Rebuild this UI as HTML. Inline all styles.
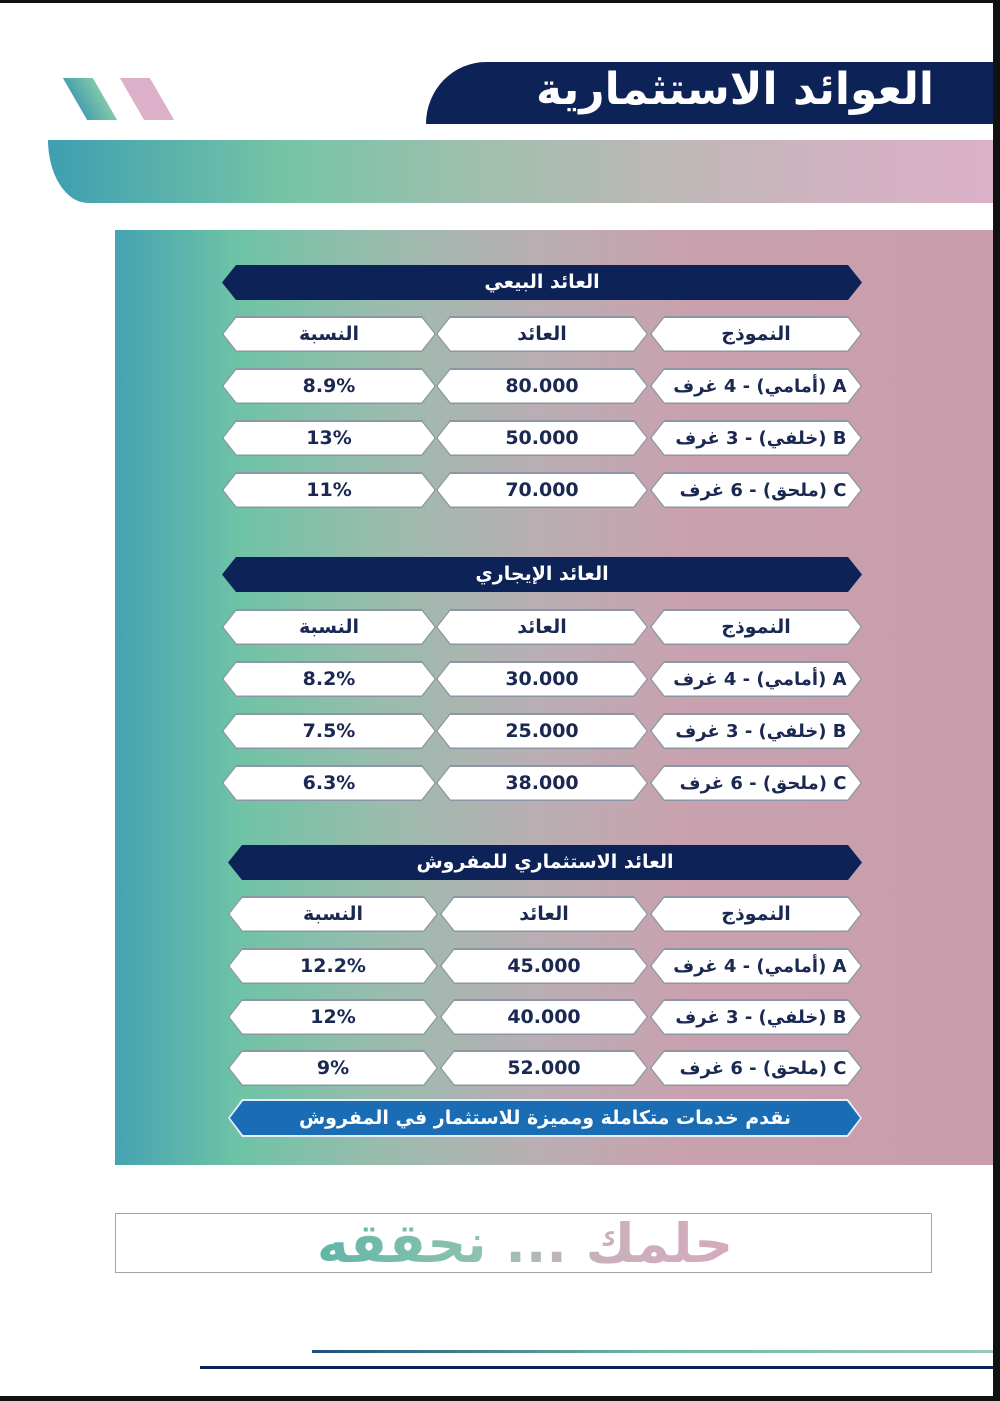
<!DOCTYPE html>
<html><head><meta charset="utf-8">
<style>
html,body{margin:0;padding:0}
body{width:1000px;height:1401px;background:#111;position:relative;overflow:hidden;font-family:"DejaVu Sans","Liberation Sans",sans-serif}
.page{position:absolute;left:0;top:3px;width:993px;height:1393px;background:#fff;overflow:hidden}
.abs{position:absolute}
.hdr{left:426px;top:59px;width:570px;height:62px;background:#0d2257;border-top-left-radius:60px 62px}
.hdr span{position:absolute;right:62px;top:2px;color:#fff;font-size:44px;font-weight:bold;direction:rtl}
.band{left:48px;top:137px;width:950px;height:63px;border-bottom-left-radius:40px 63px;
 background:linear-gradient(90deg,#3e9fb2 0%,#76c4a6 25%,#9fbfae 45%,#bdb8b6 65%,#d2b2c2 85%,#dbb1c7 100%)}
.slash{top:75px;width:30px;height:42px;transform:skewX(30deg)}
.panel{left:115px;top:227px;width:880px;height:935px;
 background:linear-gradient(90deg,#46a3b2 0%,#6ec3a6 14%,#99bcad 30%,#b9aeb3 48%,#c9a1ae 65%,#c99dac 100%)}
.title{height:35px;background:#0d2257;clip-path:polygon(14px 0,calc(100% - 14px) 0,100% 50%,calc(100% - 14px) 100%,14px 100%,0 50%);color:#fff;font-weight:bold;font-size:19px;text-align:center;line-height:35px;direction:rtl}
.cell{height:36px;background:#8d97a3;clip-path:polygon(14px 0,calc(100% - 14px) 0,100% 50%,calc(100% - 14px) 100%,14px 100%,0 50%)}
.cell div{position:absolute;left:1.5px;top:1.5px;right:1.5px;bottom:1.5px;background:#fff;clip-path:polygon(13px 0,calc(100% - 13px) 0,100% 50%,calc(100% - 13px) 100%,13px 100%,0 50%);color:#1a2852;font-weight:bold;font-size:19px;text-align:center;line-height:33px;direction:rtl}
.cell div.m{text-align:right;padding-right:14px;font-size:18px;white-space:nowrap}
.foot{left:228px;top:1096px;width:634px;height:38px;background:#e3eef8;clip-path:polygon(14px 0,calc(100% - 14px) 0,100% 50%,calc(100% - 14px) 100%,14px 100%,0 50%)}
.foot div{position:absolute;left:2px;top:2px;right:2px;bottom:2px;background:#1a6cb5;clip-path:polygon(13px 0,calc(100% - 13px) 0,100% 50%,calc(100% - 13px) 100%,13px 100%,0 50%);color:#fff;font-weight:bold;font-size:19px;text-align:center;line-height:34px;direction:rtl}
.box{left:115px;top:1210px;width:815px;height:58px;border:1.5px solid #9aa6b0;background:#fff}
.slogan{left:310px;top:1206px;width:430px;height:70px;font-size:54px;font-weight:bold;direction:rtl;text-align:center;line-height:70px;
 background:linear-gradient(90deg,#5fb5a8 0%,#8ec3ae 40%,#c4b3bc 60%,#d8a9bd 100%);-webkit-background-clip:text;background-clip:text;color:transparent}
</style></head><body>
<div class="page">
<div class="abs hdr"><span>العوائد الاستثمارية</span></div>
<div class="abs slash" style="left:75px;background:linear-gradient(90deg,#4aa0b0,#80c9a8)"></div>
<div class="abs slash" style="left:132px;background:#dcb0c8"></div>
<div class="abs band"></div>
<div class="abs panel"></div>

<div class="abs title" style="left:222px;top:262px;width:640px">العائد البيعي</div>
<div class="abs cell" style="left:650px;top:313px;width:212px"><div>النموذج</div></div>
<div class="abs cell" style="left:436px;top:313px;width:212px"><div>العائد</div></div>
<div class="abs cell" style="left:222px;top:313px;width:214px"><div>النسبة</div></div>
<div class="abs cell" style="left:650px;top:365px;width:212px"><div class="m">A (أمامي) - 4 غرف</div></div>
<div class="abs cell" style="left:436px;top:365px;width:212px"><div>80.000</div></div>
<div class="abs cell" style="left:222px;top:365px;width:214px"><div>8.9%</div></div>
<div class="abs cell" style="left:650px;top:417px;width:212px"><div class="m">B (خلفي) - 3 غرف</div></div>
<div class="abs cell" style="left:436px;top:417px;width:212px"><div>50.000</div></div>
<div class="abs cell" style="left:222px;top:417px;width:214px"><div>13%</div></div>
<div class="abs cell" style="left:650px;top:469px;width:212px"><div class="m">C (ملحق) - 6 غرف</div></div>
<div class="abs cell" style="left:436px;top:469px;width:212px"><div>70.000</div></div>
<div class="abs cell" style="left:222px;top:469px;width:214px"><div>11%</div></div>

<div class="abs title" style="left:222px;top:554px;width:640px">العائد الإيجاري</div>
<div class="abs cell" style="left:650px;top:606px;width:212px"><div>النموذج</div></div>
<div class="abs cell" style="left:436px;top:606px;width:212px"><div>العائد</div></div>
<div class="abs cell" style="left:222px;top:606px;width:214px"><div>النسبة</div></div>
<div class="abs cell" style="left:650px;top:658px;width:212px"><div class="m">A (أمامي) - 4 غرف</div></div>
<div class="abs cell" style="left:436px;top:658px;width:212px"><div>30.000</div></div>
<div class="abs cell" style="left:222px;top:658px;width:214px"><div>8.2%</div></div>
<div class="abs cell" style="left:650px;top:710px;width:212px"><div class="m">B (خلفي) - 3 غرف</div></div>
<div class="abs cell" style="left:436px;top:710px;width:212px"><div>25.000</div></div>
<div class="abs cell" style="left:222px;top:710px;width:214px"><div>7.5%</div></div>
<div class="abs cell" style="left:650px;top:762px;width:212px"><div class="m">C (ملحق) - 6 غرف</div></div>
<div class="abs cell" style="left:436px;top:762px;width:212px"><div>38.000</div></div>
<div class="abs cell" style="left:222px;top:762px;width:214px"><div>6.3%</div></div>

<div class="abs title" style="left:228px;top:842px;width:634px">العائد الاستثماري للمفروش</div>
<div class="abs cell" style="left:650px;top:893px;width:212px"><div>النموذج</div></div>
<div class="abs cell" style="left:440px;top:893px;width:208px"><div>العائد</div></div>
<div class="abs cell" style="left:228px;top:893px;width:210px"><div>النسبة</div></div>
<div class="abs cell" style="left:650px;top:945px;width:212px"><div class="m">A (أمامي) - 4 غرف</div></div>
<div class="abs cell" style="left:440px;top:945px;width:208px"><div>45.000</div></div>
<div class="abs cell" style="left:228px;top:945px;width:210px"><div>12.2%</div></div>
<div class="abs cell" style="left:650px;top:996px;width:212px"><div class="m">B (خلفي) - 3 غرف</div></div>
<div class="abs cell" style="left:440px;top:996px;width:208px"><div>40.000</div></div>
<div class="abs cell" style="left:228px;top:996px;width:210px"><div>12%</div></div>
<div class="abs cell" style="left:650px;top:1047px;width:212px"><div class="m">C (ملحق) - 6 غرف</div></div>
<div class="abs cell" style="left:440px;top:1047px;width:208px"><div>52.000</div></div>
<div class="abs cell" style="left:228px;top:1047px;width:210px"><div>9%</div></div>
<div class="abs foot"><div>نقدم خدمات متكاملة ومميزة للاستثمار في المفروش</div></div>

<div class="abs box"></div>
<div class="abs slogan">حلمك ... نحققه</div>

<div class="abs" style="left:312px;top:1347px;width:681px;height:3px;background:linear-gradient(90deg,#1f4f7a,#6fb8a6 50%,#9cc8b8)"></div>
<div class="abs" style="left:200px;top:1363px;width:793px;height:3px;background:#0d2257"></div>
</div>
</body></html>
